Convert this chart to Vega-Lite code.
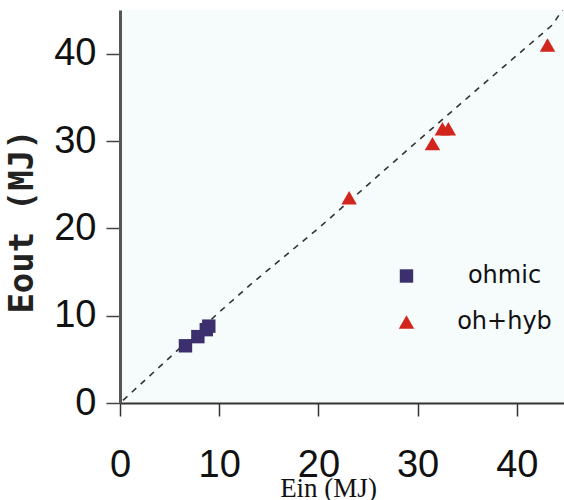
{
  "$schema": "https://vega.github.io/schema/vega-lite/v6.json",
  "width": 444,
  "height": 393,
  "autosize": {"type": "none"},
  "padding": {"left": 120, "top": 10, "right": 0, "bottom": 97},
  "background": "white",
  "view": {"fill": "#f6fbfc", "stroke": null},
  "datasets": {
    "points": [
      {"ein": 6.6, "eout": 6.55, "series": "ohmic"},
      {"ein": 7.85, "eout": 7.6, "series": "ohmic"},
      {"ein": 8.7, "eout": 8.4, "series": "ohmic"},
      {"ein": 8.95, "eout": 8.8, "series": "ohmic"},
      {"ein": 23.1, "eout": 23.5, "series": "oh+hyb"},
      {"ein": 31.5, "eout": 29.7, "series": "oh+hyb"},
      {"ein": 32.5, "eout": 31.4, "series": "oh+hyb"},
      {"ein": 33.1, "eout": 31.4, "series": "oh+hyb"},
      {"ein": 43.1, "eout": 41.0, "series": "oh+hyb"}
    ],
    "fit": [
      {"ein": 0.3, "eout": 0.3},
      {"ein": 5.0, "eout": 5.2},
      {"ein": 10.0, "eout": 10.4},
      {"ein": 13.4, "eout": 13.8},
      {"ein": 20.0, "eout": 20.0},
      {"ein": 29.2, "eout": 29.2},
      {"ein": 36.2, "eout": 36.1},
      {"ein": 43.6, "eout": 43.3},
      {"ein": 44.7, "eout": 45.2}
    ]
  },
  "layer": [
    {
      "data": {"name": "fit"},
      "mark": {"type": "line", "stroke": "#333333", "strokeWidth": 1.6, "strokeDash": [6, 6], "clip": true},
      "encoding": {
        "x": {
          "field": "ein", "type": "quantitative",
          "scale": {"domain": [0, 44.76], "nice": false, "zero": false},
          "axis": {
            "values": [0, 10, 20, 30, 40],
            "title": "Ein (MJ)",
            "titleFont": "Liberation Serif", "titleFontSize": 27, "titleFontWeight": "normal", "titleColor": "#111111",
            "titleX": 208, "titleY": 93, "titleAlign": "center", "titleBaseline": "alphabetic",
            "labelFont": "Liberation Sans", "labelFontSize": 38, "labelColor": "#111111",
            "labelBaseline": "alphabetic", "labelPadding": 60, "labelFlush": false, "labelOverlap": false,
            "tickSize": 13, "tickColor": "#333333", "tickWidth": 1.5,
            "domainColor": "#333333", "domainWidth": 2, "grid": false
          }
        },
        "y": {
          "field": "eout", "type": "quantitative",
          "scale": {"domain": [0, 45], "nice": false, "zero": false},
          "axis": {
            "values": [0, 10, 20, 30, 40],
            "title": "Eout (MJ)",
            "titleFont": "DejaVu Sans Mono", "titleFontSize": 34, "titleFontWeight": "bold", "titleColor": "#222222",
            "titleAngle": 270, "titleX": -98, "titleY": 211, "titleAlign": "center", "titleBaseline": "middle",
            "labelFont": "Liberation Sans", "labelFontSize": 38, "labelColor": "#111111",
            "labelPadding": 10, "labelFlush": false, "labelOverlap": false,
            "tickSize": 14, "tickColor": "#444444", "tickWidth": 1.5,
            "domainColor": "#555555", "domainWidth": 3, "grid": false
          }
        },
        "order": {"field": "ein", "type": "quantitative"}
      }
    },
    {
      "data": {"name": "points"},
      "mark": {"type": "point", "filled": true, "opacity": 1, "strokeWidth": 0},
      "encoding": {
        "x": {"field": "ein", "type": "quantitative"},
        "y": {"field": "eout", "type": "quantitative"},
        "color": {
          "field": "series", "type": "nominal",
          "scale": {"domain": ["ohmic", "oh+hyb"], "range": ["#3b2f6e", "#d2261c"]},
          "legend": {
            "orient": "none", "legendX": 274.5, "legendY": 254,
            "title": null, "padding": 0,
            "labelFont": "DejaVu Sans", "labelFontSize": 24, "labelColor": "#111111",
            "labelAlign": "center", "labelOffset": 86, "rowPadding": 22,
            "symbolStrokeWidth": 0, "symbolOpacity": 1
          }
        },
        "shape": {
          "field": "series", "type": "nominal",
          "scale": {"domain": ["ohmic", "oh+hyb"], "range": ["square", "triangle-up"]}
        },
        "size": {
          "field": "series", "type": "nominal",
          "scale": {"domain": ["ohmic", "oh+hyb"], "range": [180, 240]}
        }
      }
    },
    {
      "mark": {"type": "rule", "stroke": "#999999", "strokeWidth": 2.5},
      "encoding": {"y": {"datum": 45}}
    }
  ]
}
